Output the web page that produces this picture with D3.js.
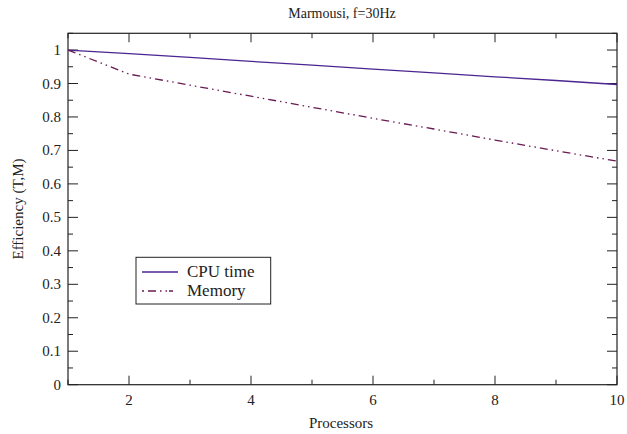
<!DOCTYPE html>
<html><head><meta charset="utf-8">
<script src="https://cdn.jsdelivr.net/npm/d3@7"></script>
<style>body{margin:0;background:#fff}</style>
</head><body><svg id="c" width="627" height="434" font-family="'Liberation Serif', 'DejaVu Serif', Times, serif"></svg>
<script>
const processors = [1,2,3,4,5,6,7,8,9,10];
const cpuTime = [1.0,0.989,0.978,0.966,0.955,0.943,0.932,0.920,0.909,0.897];
const memory  = [1.0,0.928,0.895,0.862,0.829,0.796,0.764,0.731,0.699,0.668];
const xTicks = [2,4,6,8,10];
const yTicks = [0,0.1,0.2,0.3,0.4,0.5,0.6,0.7,0.8,0.9,1];
const seriesNames = ["CPU time","Memory"];

const FF = "'Liberation Serif', 'DejaVu Serif', Times, serif";
const svg = d3.select("#c");
const L=68,R=617,T=33.3,B=384.7;
const x = d3.scaleLinear().domain([1,10]).range([L,R]);
const y = d3.scaleLinear().domain([0,1.05]).range([B,T]);
const g = svg.append("g");
const ax = "#222";
g.append("rect").attr("x",L).attr("y",T).attr("width",R-L).attr("height",B-T).attr("fill","none").attr("stroke",ax).attr("stroke-width",1.2);
d3.range(1,10.01,1).forEach(v=>{
  const len = xTicks.includes(v)?9:5;
  g.append("line").attr("x1",x(v)).attr("x2",x(v)).attr("y1",B).attr("y2",B-len).attr("stroke",ax);
  g.append("line").attr("x1",x(v)).attr("x2",x(v)).attr("y1",T).attr("y2",T+len).attr("stroke",ax);
});
xTicks.forEach(v=>{
  g.append("text").attr("x",x(v)).attr("y",B+20).attr("text-anchor","middle").attr("font-size",15).attr("font-family",FF).attr("fill","#222").text(v);
});
d3.range(0,1.051,0.05).forEach(v=>{
  const major = Math.abs(Math.round(v*10)-v*10)<1e-6;
  const len = major?10:5;
  g.append("line").attr("y1",y(v)).attr("y2",y(v)).attr("x1",L).attr("x2",L+len).attr("stroke",ax);
  g.append("line").attr("y1",y(v)).attr("y2",y(v)).attr("x1",R).attr("x2",R-len).attr("stroke",ax);
});
yTicks.forEach(v=>{
  g.append("text").attr("x",L-7).attr("y",y(v)+5).attr("text-anchor","end").attr("font-size",15).attr("font-family",FF).attr("fill","#222").text(v);
});
const line = d3.line().x((d,i)=>x(processors[i])).y(d=>y(d));
g.append("path").datum(cpuTime).attr("d",line).attr("fill","none").attr("stroke","#4b2590").attr("stroke-width",1.3);
g.append("path").datum(memory).attr("d",line).attr("fill","none").attr("stroke","#6a1a52").attr("stroke-width",1.3).attr("stroke-dasharray","8,4,1.5,4,1.5,4");
svg.append("text").attr("x",342).attr("y",18).attr("text-anchor","middle").attr("font-size",14).attr("font-family",FF).attr("fill","#222").text("Marmousi, f=30Hz");
svg.append("text").attr("x",341).attr("y",428).attr("text-anchor","middle").attr("font-size",15).attr("font-family",FF).attr("fill","#222").text("Processors");
svg.append("text").attr("transform","translate(23,209) rotate(-90)").attr("text-anchor","middle").attr("font-size",15).attr("font-family",FF).attr("fill","#222").text("Efficiency (T,M)");
const lg = svg.append("g");
lg.append("rect").attr("x",136).attr("y",257.3).attr("width",134.7).attr("height",46.7).attr("fill","#fff").attr("stroke",ax);
lg.append("line").attr("x1",142).attr("x2",178).attr("y1",272).attr("y2",272).attr("stroke","#4b2590").attr("stroke-width",1.3);
lg.append("line").attr("x1",142).attr("x2",178).attr("y1",291).attr("y2",291).attr("stroke","#6a1a52").attr("stroke-width",1.3).attr("stroke-dasharray","2,4,8,4,1.5,4,1.5");
lg.append("text").attr("x",187).attr("y",277).attr("font-size",17).attr("font-family",FF).attr("fill","#222").text(seriesNames[0]);
lg.append("text").attr("x",187).attr("y",296).attr("font-size",17).attr("font-family",FF).attr("fill","#222").text(seriesNames[1]);
</script></body></html>
